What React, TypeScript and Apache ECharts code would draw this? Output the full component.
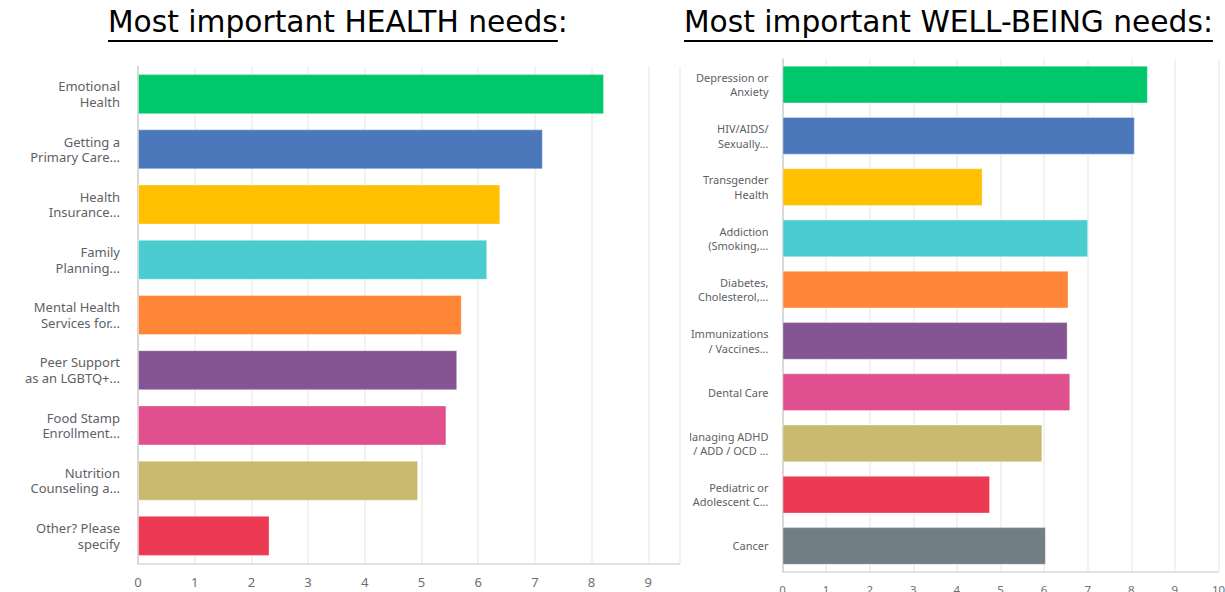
import React, { useEffect, useRef } from "react";
import * as echarts from "echarts";

const healthCategories = [
  "Emotional\nHealth",
  "Getting a\nPrimary Care...",
  "Health\nInsurance...",
  "Family\nPlanning...",
  "Mental Health\nServices for...",
  "Peer Support\nas an LGBTQ+...",
  "Food Stamp\nEnrollment...",
  "Nutrition\nCounseling a...",
  "Other? Please\nspecify",
];
const healthValues = [8.22, 7.14, 6.39, 6.16, 5.71, 5.63, 5.44, 4.94, 2.32];

const wellCategories = [
  "Depression or\nAnxiety",
  "HIV/AIDS/\nSexually...",
  "Transgender\nHealth",
  "Addiction\n(Smoking,...",
  "Diabetes,\nCholesterol,...",
  "Immunizations\n/ Vaccines...",
  "Dental Care",
  "Managing ADHD\n/ ADD / OCD ...",
  "Pediatric or\nAdolescent C...",
  "Cancer",
];
const wellValues = [8.38, 8.08, 4.59, 7.01, 6.56, 6.54, 6.6, 5.96, 4.76, 6.04];

const healthColors = ["#00C76A", "#4A78BA", "#FEC000", "#4BCCD0", "#FF8636", "#845592", "#E04F8E", "#C9BA6F", "#EC3A53"];
const wellColors = ["#00C76A", "#4A78BA", "#FEC000", "#4BCCD0", "#FF8636", "#845592", "#E04F8E", "#C9BA6F", "#EC3A53", "#717E86"];

const titleLeft = "Most important HEALTH needs";
const titleRight = "Most important WELL-BEING needs:";

const TITLE_FONT = '29.7px "DejaVu Sans", Verdana, sans-serif';

function measure(text: string): number {
  const c = document.createElement("canvas").getContext("2d")!;
  c.font = TITLE_FONT;
  return c.measureText(text).width;
}

const LABEL_FONT = '"Noto Sans", "Open Sans", sans-serif';

export default function App() {
  const leftRef = useRef<HTMLDivElement>(null);
  const rightRef = useRef<HTMLDivElement>(null);

  useEffect(() => {
    const left = echarts.init(leftRef.current!, null, { renderer: "svg" });
    const right = echarts.init(rightRef.current!, null, { renderer: "svg" });

    const wLeft = measure(titleLeft);
    const wRight = measure(titleRight);

    left.setOption({
      animation: false,
      graphic: [
        { type: "text", x: 108, y: 21.5, style: { text: titleLeft + ":", font: TITLE_FONT, fill: "#000", textVerticalAlign: "middle" } },
        { type: "line", shape: { x1: 108, y1: 41, x2: 108 + wLeft, y2: 41 }, style: { stroke: "#000", lineWidth: 2 } },
        { type: "text", x: 684, y: 21.5, style: { text: titleRight, font: TITLE_FONT, fill: "#000", textVerticalAlign: "middle" } },
        { type: "line", shape: { x1: 684, y1: 41, x2: 684 + wRight, y2: 41 }, style: { stroke: "#000", lineWidth: 2 } },
      ],
      grid: { left: 138, top: 66.5, width: 542, height: 497, containLabel: false, outerBoundsMode: "none" },
      xAxis: {
        type: "value",
        min: 0,
        max: 9.56,
        interval: 1,
        axisLine: { show: true, lineStyle: { color: "#d9d9d9", width: 1.5 } },
        axisTick: { show: false },
        splitLine: { show: true, lineStyle: { color: "#eeeeee", width: 1.5 } },
        axisLabel: {
          fontSize: 13,
          fontFamily: LABEL_FONT,
          color: "#6b6f73",
          margin: 12,
          formatter: (v: number) => (Number.isInteger(v) ? String(v) : ""),
        },
      },
      yAxis: {
        type: "category",
        inverse: true,
        data: healthCategories,
        axisLine: { show: true, lineStyle: { color: "#cfcfcf", width: 1.5 } },
        axisTick: { show: false },
        axisLabel: { fontSize: 13, lineHeight: 15.5, fontFamily: LABEL_FONT, color: "#5d6166", margin: 18 },
      },
      series: [
        {
          type: "bar",
          data: healthValues.map((v, i) => ({ value: v, itemStyle: { color: healthColors[i] } })),
          barCategoryGap: "27.5%",
          itemStyle: { borderColor: "rgba(255,255,255,0.35)", borderWidth: 1 },
        },
      ],
    });

    right.setOption({
      animation: false,
      grid: { left: 92.5, top: 8.9, width: 436, height: 512.7, containLabel: false, outerBoundsMode: "none" },
      xAxis: {
        type: "value",
        min: 0,
        max: 10,
        interval: 1,
        axisLine: { show: true, lineStyle: { color: "#d9d9d9", width: 1.5 } },
        axisTick: { show: false },
        splitLine: { show: true, lineStyle: { color: "#eeeeee", width: 1.5 } },
        axisLabel: { fontSize: 11.5, fontFamily: LABEL_FONT, color: "#6b6f73", margin: 12 },
      },
      yAxis: {
        type: "category",
        inverse: true,
        data: wellCategories,
        axisLine: { show: true, lineStyle: { color: "#cfcfcf", width: 1.5 } },
        axisTick: { show: false },
        axisLabel: { fontSize: 11, lineHeight: 14.5, fontFamily: LABEL_FONT, color: "#5d6166", margin: 14 },
      },
      series: [
        {
          type: "bar",
          data: wellValues.map((v, i) => ({ value: v, itemStyle: { color: wellColors[i] } })),
          barCategoryGap: "26.5%",
          itemStyle: { borderColor: "rgba(255,255,255,0.35)", borderWidth: 1 },
        },
      ],
    });

    return () => {
      left.dispose();
      right.dispose();
    };
  }, []);

  return (
    <div style={{ position: "fixed", left: 0, top: 0, width: 1225, height: 592, background: "#fff" }}>
      <div ref={leftRef} style={{ position: "absolute", left: 0, top: 0, width: 1225, height: 592 }} />
      <div ref={rightRef} style={{ position: "absolute", left: 690, top: 50, width: 535, height: 542 }} />
    </div>
  );
}
